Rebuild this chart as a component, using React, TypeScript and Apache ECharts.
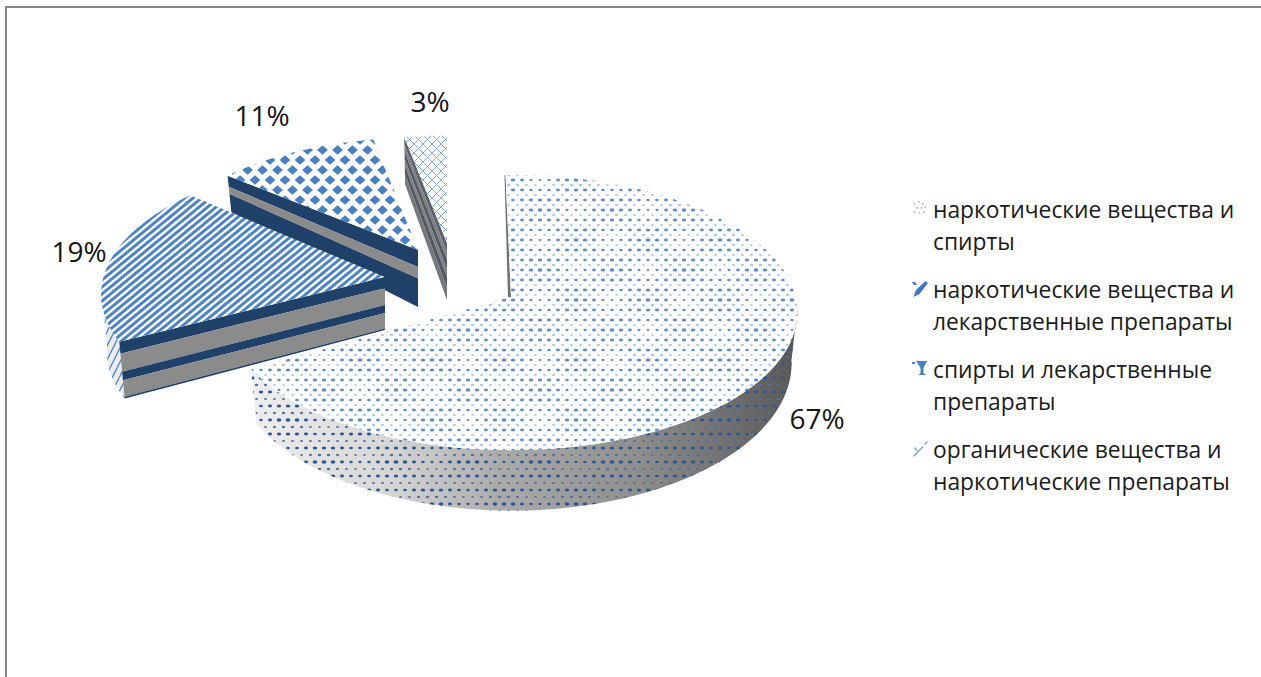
import React, { useEffect, useRef } from "react";
import * as echarts from "echarts";

// Wrapped legend captions, one per slice
const categories = [
  "наркотические вещества и\nспирты",
  "наркотические вещества и\nлекарственные препараты",
  "спирты и лекарственные\nпрепараты",
  "органические вещества и\nнаркотические препараты",
];
const values = [67, 19, 11, 3];

// Projection of the unit disc onto the page
const RADIUS_X = 288;
const RADIUS_Y = 135.8;
const PERSPECTIVE = 0.113;
const SILHOUETTE = [96.5, 263.5];

// Exploded placement of each slice: apex position, 2x2 transform, wall heights
const placements = [
  { ax: 511, ay: 297, m: [0.985, 0.045, -0.0114, 1], hOuter: 50, hApex: 50, gain: 2 },
  { ax: 385, ay: 277, m: [0.974, -0.0828, 0.0117, 0.981], hOuter: 58, hApex: 53, gain: 0 },
  { ax: 418, ay: 250, m: [0.92, 0, 0, 0.92], hOuter: 35, hApex: 57, gain: 0 },
  { ax: 447, ay: 243, m: [0.88, 0, 0, 0.88], hOuter: 45, hApex: 57, gain: 0 },
];

const NAVY = "#1f4068";
const GREY = "#8b8b8b";
const cutBands: [number, number, string][][] = [
  [],
  [[0, 0.21, NAVY], [0.21, 0.53, GREY], [0.53, 0.68, NAVY], [0.68, 0.97, GREY], [0.97, 1, NAVY]],
  [[0, 0.3, NAVY], [0.3, 0.5, GREY], [0.5, 1, NAVY]],
  [[0, 0.16, "#5c6068"], [0.16, 0.3, "#7d8084"], [0.3, 0.46, "#53575f"], [0.46, 0.6, "#7d8084"], [0.6, 0.78, "#53575f"], [0.78, 1, "#74777c"]],
];

const labelPositions = [
  [817, 418],
  [79, 251],
  [262, 115],
  [430, 101],
];

// Legend swatches sized to the two-line caption, with the mark beside the first line
const legendIcons = [
  "path://M0 0M25 64M10.5 10h1.8v1.8h-1.8zM15 8h1.8v1.8h-1.8zM19 10h1.8v1.8h-1.8zM13 14h1.8v1.8h-1.8zM17.5 14h1.8v1.8h-1.8zM21.5 13h1.8v1.8h-1.8zM10.5 18h1.8v1.8h-1.8zM15.5 19h1.8v1.8h-1.8zM20 18h1.8v1.8h-1.8z",
  "path://M0 0M25 64M9 9h3l2 3h-3zM22.5 8l2.5 2 -8.5 11 -6 3 2.5 -7z",
  "path://M0 0M25 64M9 9h3v2h-3zM13 8h11l-3.5 7v5l2.5 2h-8l2.5 -2v-5z",
  "path://M0 0M25 64M10 23l9.5 -10 1 1 -9.5 10zM21 11l3 -3 1 1 -3 3zM12 14l2.5 3 -1 1 -2.5 -3z",
];
const legendColors = ["#a8c2e2", "#3f78bf", "#4a82c4", "#7fa6d8"];

function makeTile(w: number, h: number, draw: (c: CanvasRenderingContext2D) => void) {
  const canvas = document.createElement("canvas");
  canvas.width = w;
  canvas.height = h;
  draw(canvas.getContext("2d") as CanvasRenderingContext2D);
  return { image: canvas, repeat: "repeat", imageWidth: w, imageHeight: h } as any;
}

function solid(c: CanvasRenderingContext2D, w: number, h: number) {
  c.fillStyle = "#ffffff";
  c.fillRect(0, 0, w, h);
}

// Staggered dots in alternating rows of larger and fainter spots, gently swelling across the tile
function dotTile(
  background: boolean,
  stepX: number,
  stepY: number,
  big: string,
  small: string,
  bigR: number,
  smallR: number,
) {
  const cols = 8;
  const rows = 12;
  const w = stepX * cols;
  const h = stepY * rows;
  return makeTile(w, h, (c) => {
    if (background) solid(c, w, h);
    for (let r = -1; r <= rows; r++) {
      for (let q = -1; q <= cols; q++) {
        const odd = ((r % 2) + 2) % 2;
        const x = (q + odd / 2) * stepX;
        const y = r * stepY;
        const swell = 0.9 + 0.2 * Math.cos((2 * Math.PI * x) / w) * Math.cos((2 * Math.PI * y) / h);
        c.fillStyle = odd ? small : big;
        c.beginPath();
        c.ellipse(x, y, (odd ? smallR : bigR) * swell * 1.2, (odd ? smallR : bigR) * swell * 0.85, 0, 0, Math.PI * 2);
        c.fill();
      }
    }
  });
}

// Two rising stripes per tile so the run stays seamless in both directions
function stripeTile(w: number, h: number, width: number, color: string) {
  return makeTile(w, h, (c) => {
    solid(c, w, h);
    c.strokeStyle = color;
    c.lineWidth = width;
    for (let o = -w * 2; o <= w * 3; o += w / 2) {
      c.beginPath();
      c.moveTo(o - w, h * 2);
      c.lineTo(o + w * 2, -h);
      c.stroke();
    }
  });
}

function diamondTile() {
  const w = 15;
  const h = 20;
  return makeTile(w, h, (c) => {
    solid(c, w, h);
    c.fillStyle = "#4a80c2";
    const spots = [[0, 0], [15, 0], [0, 20], [15, 20], [7.5, 10]];
    for (const [x, y] of spots) {
      c.beginPath();
      c.moveTo(x - 5.4, y);
      c.lineTo(x, y - 4.8);
      c.lineTo(x + 5.4, y);
      c.lineTo(x, y + 4.8);
      c.closePath();
      c.fill();
    }
  });
}

function trellisTile() {
  const s = 9;
  return makeTile(s, s, (c) => {
    solid(c, s, s);
    c.strokeStyle = "#86abd9";
    c.lineWidth = 1;
    for (const o of [-s, 0, s]) {
      c.beginPath();
      c.moveTo(o, 0);
      c.lineTo(o + s, s);
      c.stroke();
      c.beginPath();
      c.moveTo(o, s);
      c.lineTo(o + s, 0);
      c.stroke();
    }
  });
}

function wallStripeTile() {
  return makeTile(7, 14, (c) => {
    c.strokeStyle = "#4f86c6";
    c.lineWidth = 1.4;
    for (const o of [-7, 0, 7]) {
      c.beginPath();
      c.moveTo(o, 14);
      c.lineTo(o + 7, 0);
      c.stroke();
    }
  });
}

const toRad = (deg: number) => (deg * Math.PI) / 180;

function project(i: number, deg: number, r = 1) {
  const p = placements[i];
  const u = r * Math.sin(toRad(deg));
  const v = r * Math.cos(toRad(deg));
  const w = 1 + PERSPECTIVE * v;
  const x0 = (RADIUS_X * u) / w;
  const y0 = (-RADIUS_Y * v) / w;
  return {
    x: p.ax + p.m[0] * x0 + p.m[1] * y0,
    y: p.ay + p.m[2] * x0 + p.m[3] * y0,
    w,
  };
}

// A point on the rim at fraction f of the way down the wall
function lowered(i: number, deg: number, r: number, f: number) {
  const p = placements[i];
  const t = project(i, deg, r);
  const h = (p.hApex + (p.hOuter - p.hApex) * r) / Math.pow(t.w, p.gain);
  const shrink = 1 - 0.02 * f;
  return [p.ax + (t.x - p.ax) * shrink, p.ay + (t.y - p.ay) * shrink + h * f];
}

function arcPoints(i: number, from: number, to: number, f: number) {
  const pts: number[][] = [];
  const n = Math.max(2, Math.ceil(Math.abs(to - from)));
  for (let s = 0; s <= n; s++) pts.push(lowered(i, from + ((to - from) * s) / n, 1, f));
  return pts;
}

export default function App() {
  const ref = useRef<HTMLDivElement>(null);

  useEffect(() => {
    document.body.style.margin = "0";
    document.documentElement.style.overflow = "hidden";
    const chart = echarts.init(ref.current as HTMLDivElement, undefined, { renderer: "svg" });

    const topFills = [
      dotTile(true, 9, 5, "#5f8cc4", "#b0c6e2", 1.8, 1.4),
      stripeTile(17, 14, 2.9, "#4d84c4"),
      diamondTile(),
      trellisTile(),
    ];
    const wallDots = dotTile(false, 9, 7, "#2a5994", "#5b7090", 1.9, 1.4);
    const wallStripes = wallStripeTile();
    const wallShade = new echarts.graphic.LinearGradient(
      255, 0, 798, 0,
      [
        { offset: 0, color: "#eeeeee" },
        { offset: 0.25, color: "#d6d6d6" },
        { offset: 0.45, color: "#ababab" },
        { offset: 0.7, color: "#8f8f8f" },
        { offset: 1, color: "#585858" },
      ],
      true,
    );

    const total = values.reduce((a, b) => a + b, 0);
    const starts = values.map((_, i) =>
      (values.slice(0, i).reduce((a, b) => a + b, 0) / total) * 360,
    );

    const renderSlice = (i: number) => (): any => {
      const start = starts[i];
      const end = start + (values[i] / total) * 360;
      const p = placements[i];
      const children: any[] = [];

      const wallFrom = Math.max(start, SILHOUETTE[0]);
      const wallTo = Math.min(end, SILHOUETTE[1]);
      if (wallTo > wallFrom) {
        const outline = [
          ...arcPoints(i, wallFrom, wallTo, 0),
          ...arcPoints(i, wallTo, wallFrom, 1),
        ];
        children.push({
          type: "polygon",
          shape: { points: outline },
          style: { fill: i === 0 ? wallShade : "#ececec" },
        });
        children.push({
          type: "polygon",
          shape: { points: outline },
          style: { fill: i === 0 ? wallDots : wallStripes },
        });
      }

      for (const [f1, f2, color] of cutBands[i]) {
        children.push({
          type: "polygon",
          shape: {
            points: [
              lowered(i, start, 1, f1),
              lowered(i, start, 0, f1),
              lowered(i, start, 0, f2),
              lowered(i, start, 1, f2),
            ],
          },
          style: { fill: color },
        });
      }

      const rim: number[][] = [[p.ax, p.ay]];
      const steps = Math.ceil(end - start);
      for (let s = 0; s <= steps; s++) {
        const t = project(i, start + ((end - start) * s) / steps);
        rim.push([t.x, t.y]);
      }

      // The first slice shows only a sliver of its cut face along the rear edge
      if (i === 0) {
        const far = project(i, 0);
        children.push({
          type: "polygon",
          shape: {
            points: [[far.x, far.y], [p.ax, p.ay], [p.ax - 3, p.ay], [far.x - 1, far.y]],
          },
          style: { fill: "#6f6f6f" },
        });
      }

      children.push({
        type: "polygon",
        shape: { points: rim },
        style: { fill: topFills[i] },
      });

      children.push({
        type: "text",
        x: labelPositions[i][0],
        y: labelPositions[i][1],
        style: {
          text: `${values[i]}%`,
          fontFamily: "Open Sans",
          fontSize: 28,
          fill: "#151515",
          align: "center",
          verticalAlign: "middle",
        },
      });

      return { type: "group", children };
    };

    chart.setOption({
      animation: false,
      backgroundColor: "#ffffff",
      legend: {
        orient: "vertical",
        left: 903,
        top: 193,
        padding: 0,
        itemWidth: 25,
        itemHeight: 64,
        itemGap: 16,
        selectedMode: false,
        data: categories.map((name, i) => ({
          name,
          icon: legendIcons[i],
          itemStyle: { color: legendColors[i] },
        })),
        textStyle: {
          fontFamily: "Open Sans",
          fontSize: 22.8,
          lineHeight: 32,
          color: "#1c1c1c",
        },
      },
      graphic: [
        {
          type: "line",
          silent: true,
          shape: { x1: 6, y1: 7, x2: 1261, y2: 7 },
          style: { stroke: "#858585", lineWidth: 2 },
        },
        {
          type: "line",
          silent: true,
          shape: { x1: 6, y1: 6, x2: 6, y2: 677 },
          style: { stroke: "#858585", lineWidth: 2 },
        },
      ],
      series: categories.map((name, i) => ({
        type: "custom",
        name,
        coordinateSystem: "none",
        silent: true,
        z: 10 - i,
        data: [values[i]],
        renderItem: renderSlice(i),
      })),
    });

    return () => chart.dispose();
  }, []);

  return <div ref={ref} style={{ width: 1261, height: 677 }} />;
}
